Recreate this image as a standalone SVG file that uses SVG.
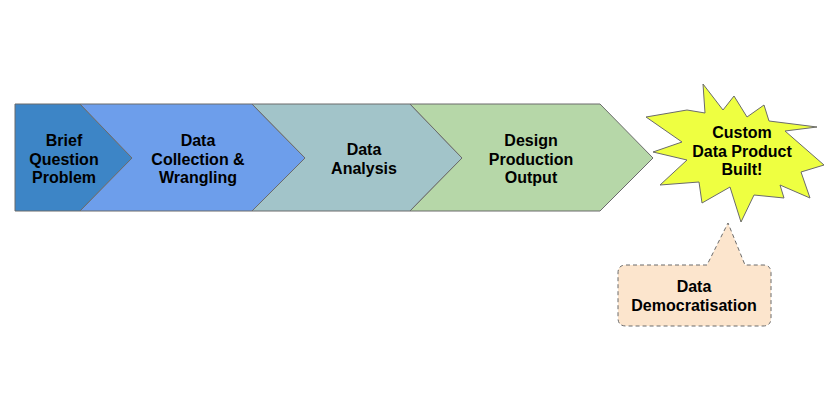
<svg xmlns="http://www.w3.org/2000/svg" width="827" height="414" viewBox="0 0 827 414">
<style>
.shape{stroke:#6b6b6b;stroke-width:1;stroke-linejoin:miter}
.lbl{font-family:"Liberation Sans",Arial,sans-serif;font-weight:bold;font-size:16px;fill:#000;text-anchor:middle}
</style>
<rect width="827" height="414" fill="#ffffff"/>
<g id="connectors"></g>
<g id="step1">
<polygon class="shape" fill="#3d85c6" points="15,104 80,104 132,158 80,211 15,211"/>
<text class="lbl" x="64" y="146">Brief</text>
<text class="lbl" x="64" y="165">Question</text>
<text class="lbl" x="64" y="183">Problem</text>
</g>
<g id="step2">
<polygon class="shape" fill="#6d9eeb" points="80,104 252,104 305,158 252,211 80,211 132,158"/>
<text class="lbl" x="198" y="146">Data</text>
<text class="lbl" x="198" y="165">Collection &amp;</text>
<text class="lbl" x="198" y="183">Wrangling</text>
</g>
<g id="step3">
<polygon class="shape" fill="#a2c4c9" points="252,104 410,104 462,158 410,211 252,211 305,158"/>
<text class="lbl" x="364" y="155">Data</text>
<text class="lbl" x="364" y="174">Analysis</text>
</g>
<g id="step4">
<polygon class="shape" fill="#b6d7a8" points="410,104 600,104 653,158 600,211 410,211 462,158"/>
<text class="lbl" x="531" y="146">Design</text>
<text class="lbl" x="531" y="165">Production</text>
<text class="lbl" x="531" y="183">Output</text>
</g>
<g id="result">
<polygon class="shape" fill="#eeff41" stroke="#777777" points="646,117 687,110 705,113 703,84 723,110 734,96 747,117 764,105 769,121 817,127 785,131 824,165 801,172 810,198 780,185 784,198 754,195 741,222 730,187 702,203 699,182 660,185 687,160 653,152 682,142"/>
<text class="lbl" x="742" y="138">Custom</text>
<text class="lbl" x="742" y="157">Data Product</text>
<text class="lbl" x="742" y="175">Built!</text>
</g>
<g id="callout">
<path d="M626,265 H707 L728,223 L745,265 H763 Q771,265 771,273 V318 Q771,326 763,326 H626 Q618,326 618,318 V273 Q618,265 626,265 Z" fill="#fce5cd" stroke="#6b6b6b" stroke-width="1" stroke-dasharray="4,3"/>
<text class="lbl" x="694" y="292">Data</text>
<text class="lbl" x="694" y="311">Democratisation</text>
</g>
</svg>
